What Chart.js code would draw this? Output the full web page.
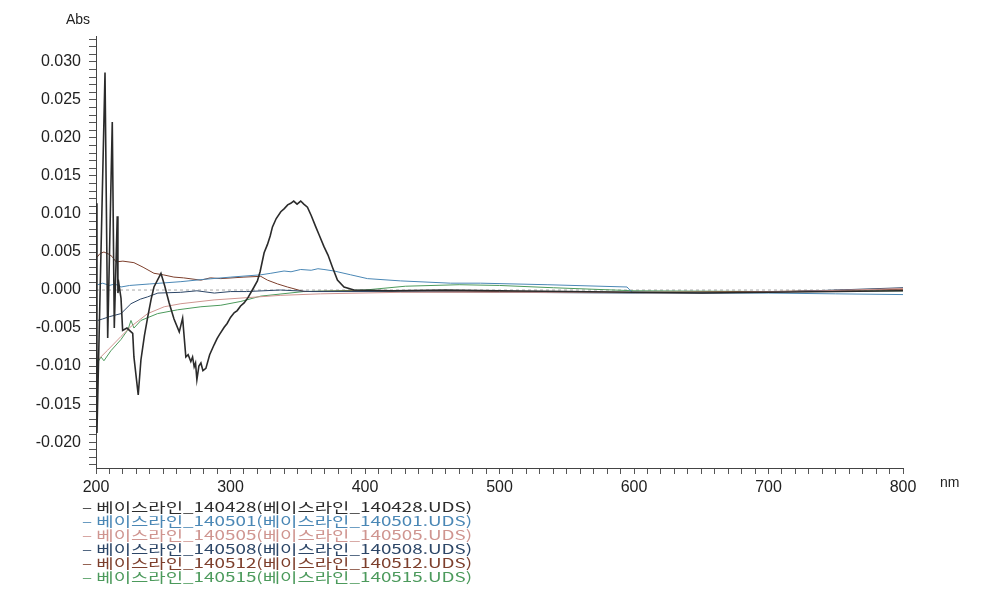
<!DOCTYPE html>
<html>
<head>
<meta charset="utf-8">
<script src="https://cdn.jsdelivr.net/npm/chart.js@4.4.0/dist/chart.umd.min.js"></script>
<style>
html, body { margin: 0; padding: 0; background: #fff; }
#wrap { position: relative; width: 985px; height: 590px; }
#legend { position: absolute; left: 82px; top: 500px; font-family: "Noto Sans CJK KR", sans-serif; font-size: 13px; line-height: 14px; white-space: nowrap; transform: scaleX(1.45); transform-origin: 0 0; }
.lab { position: absolute; font-family: "Liberation Sans", Arial, sans-serif; font-size: 14px; color: #222; }
</style>
</head>
<body>
<div id="wrap">
  <canvas id="myChart" width="985" height="590"></canvas>
  <span class="lab" style="left:66px;top:11px;">Abs</span>
  <span class="lab" style="left:940px;top:474px;">nm</span>
  <div id="legend"></div>
</div>
<script>
// series labels
const labels = [
    '베이스라인_140428(베이스라인_140428.UDS)',
    '베이스라인_140501(베이스라인_140501.UDS)',
    '베이스라인_140505(베이스라인_140505.UDS)',
    '베이스라인_140508(베이스라인_140508.UDS)',
    '베이스라인_140512(베이스라인_140512.UDS)',
    '베이스라인_140515(베이스라인_140515.UDS)'
];
const colors = ['#2b2b2b', '#4a87b5', '#cf9590', '#2c4667', '#7d3f2c', '#4c9a5c'];

// wavelength (nm) / absorbance
const wl428  = [200.4, 200.7, 206.7, 208.7, 212.1, 213.6, 215.8, 216.3, 217.1, 218.6, 219.8, 223, 227.3, 228.2, 231.4, 233.4, 236, 238.4, 241, 243.1, 248.3, 251, 254.4, 258, 261.9, 264.4, 266.8, 268.5, 270.5, 271.8, 273, 274, 275, 276.5, 278, 279.5, 281.7, 284.5, 287.8, 290, 292, 295.3, 297.5, 300, 302.7, 305, 307.5, 310.1, 313, 317.5, 320, 322, 325, 327.5, 329.5, 331.2, 334, 337.4, 340, 342.5, 344.8, 347, 349.5, 352.2, 354.5, 357.2, 360, 363.4, 366, 369.5, 372.5, 375.8, 379.5, 384.4, 391.8, 420, 460, 500, 550, 600, 650, 700, 750, 800];
const abs428 = [0.0114, -0.0188, 0.0286, -0.0063, 0.0221, -0.0050, 0.0097, -0.0004, 0.0007, -0.0011, -0.0053, -0.0050, -0.0057, -0.0088, -0.0138, -0.0092, -0.0060, -0.0036, -0.0012, 0.0004, 0.0022, 0.0006, -0.0017, -0.0038, -0.0055, -0.0037, -0.0088, -0.0085, -0.0094, -0.0088, -0.0101, -0.0096, -0.0118, -0.0100, -0.0096, -0.0106, -0.0103, -0.0085, -0.0072, -0.0064, -0.0058, -0.0049, -0.0044, -0.0036, -0.0030, -0.0027, -0.0021, -0.0017, -0.0010, 0.0004, 0.0012, 0.0024, 0.0049, 0.0060, 0.0071, 0.0083, 0.0094, 0.0103, 0.0107, 0.0112, 0.0114, 0.0117, 0.0113, 0.0117, 0.0113, 0.0109, 0.0098, 0.0083, 0.0072, 0.0057, 0.0046, 0.0030, 0.0013, 0.0004, 0.0000, -0.0001, 0.0000, -0.0001, -0.0002, -0.0003, -0.0004, -0.0003, -0.0002, -0.0001];

const wl501  = [201.3, 205, 210, 214, 218.6, 225, 240, 263.1, 280, 300.2, 322.5, 330, 339.8, 345, 352.2, 360, 365, 369.5, 377, 389.4, 401.8, 426.5, 463.6, 485.9, 535.4, 594.8, 598.5, 650, 700, 750, 800];
const abs501 = [0.0007, 0.0009, 0.0006, 0.0008, 0.0004, 0.0006, 0.0008, 0.0011, 0.0014, 0.0017, 0.0020, 0.0022, 0.0025, 0.0024, 0.0027, 0.0026, 0.0028, 0.0027, 0.0025, 0.0020, 0.0015, 0.0012, 0.0009, 0.0009, 0.0007, 0.0004, -0.0003, -0.0004, -0.0004, -0.0005, -0.0006];

const wl505  = [201.3, 208.7, 218.6, 226, 238.4, 250.7, 263.1, 287.8, 312.6, 337.4, 367, 426.5, 500, 575, 650, 720, 800];
const abs505 = [-0.0092, -0.0079, -0.0061, -0.0048, -0.0031, -0.0022, -0.0018, -0.0013, -0.0010, -0.0007, -0.0005, -0.0003, -0.0003, -0.0003, -0.0004, -0.0002, 0.0002];

const wl508  = [201.3, 205, 210, 218.6, 226, 233, 238.4, 246, 263, 275, 288, 300, 312, 337, 360, 400, 500, 600, 700, 800];
const abs508 = [-0.0040, -0.0038, -0.0035, -0.0031, -0.0018, -0.0012, -0.0009, -0.0004, -0.0003, -0.0001, -0.0004, -0.0002, -0.0002, 0.0000, -0.0002, -0.0002, -0.0003, -0.0004, -0.0003, 0.0003];

const wl512  = [200.7, 203, 205.9, 209.7, 212, 214.9, 220, 228.2, 235, 243.1, 250, 257.9, 265, 278, 285, 292.8, 310, 322.5, 327.5, 335, 342.3, 354.7, 400, 500, 600, 700, 800];
const abs512 = [0.0043, 0.0048, 0.0050, 0.0047, 0.0044, 0.0037, 0.0038, 0.0036, 0.0030, 0.0022, 0.0020, 0.0017, 0.0016, 0.0013, 0.0016, 0.0015, 0.0017, 0.0018, 0.0013, 0.0008, 0.0004, -0.0002, -0.0001, -0.0002, -0.0003, -0.0002, 0.0001];

const wl515  = [201.3, 203.7, 205.9, 211, 218.6, 223.8, 226, 228.2, 233.4, 245.8, 260.7, 278, 292.8, 307.7, 322.5, 354.5, 400, 430, 470, 500, 540, 600, 700, 800];
const abs515 = [-0.0095, -0.0088, -0.0093, -0.0080, -0.0065, -0.0052, -0.0040, -0.0050, -0.0040, -0.0031, -0.0026, -0.0022, -0.0020, -0.0015, -0.0008, -0.0002, 0.0000, 0.0005, 0.0007, 0.0006, 0.0003, -0.0001, -0.0002, -0.0001];

const xTicks = [200, 300, 400, 500, 600, 700, 800];

const seriesX = [wl428, wl501, wl505, wl508, wl512, wl515];
const seriesY = [abs428, abs501, abs505, abs508, abs512, abs515];

function toPoints(xs, ys) {
    return xs.map((x, i) => ({ x: x, y: ys[i] }));
}

const datasets = labels.map((lab, i) => ({
    label: lab,
    data: toPoints(seriesX[i], seriesY[i]),
    borderColor: colors[i],
    borderWidth: i === 0 ? 1.6 : 1,
    pointRadius: 0,
    tension: 0,
    fill: false
}));

// dashed zero line
const zeroLine = {
    id: 'zeroLine',
    beforeDatasetsDraw(chart) {
        const { ctx, chartArea, scales } = chart;
        const py = scales.y.getPixelForValue(0);
        ctx.save();
        ctx.strokeStyle = '#a8a8a8';
        ctx.lineWidth = 1;
        ctx.setLineDash([3, 3]);
        ctx.beginPath();
        ctx.moveTo(chartArea.left, py);
        ctx.lineTo(chartArea.right, py);
        ctx.stroke();
        ctx.restore();
    }
};

const ctx = document.getElementById('myChart').getContext('2d');
const chart = new Chart(ctx, {
    type: 'line',
    data: { datasets: datasets },
    options: {
        responsive: false,
        animation: false,
        layout: { padding: { left: 0, top: 36, right: 82, bottom: 92 } },
        plugins: { legend: { display: false }, tooltip: { enabled: false } },
        scales: {
            x: {
                type: 'linear',
                min: 200,
                max: 800,
                afterFit(scale) { scale.height = 30; },
                border: { display: true, color: '#444', width: 1 },
                grid: { drawOnChartArea: false, drawTicks: true, tickLength: 6, color: '#555' },
                ticks: {
                    stepSize: 10,
                    autoSkip: false,
                    maxRotation: 0,
                    padding: 4,
                    color: '#222',
                    font: { family: 'Liberation Sans', size: 16 },
                    callback: (v) => xTicks.includes(Math.round(v)) ? String(Math.round(v)) : ''
                }
            },
            y: {
                min: -0.0234,
                max: 0.0334,
                afterFit(scale) { scale.width = 96; },
                border: { display: true, color: '#444', width: 1 },
                grid: { drawOnChartArea: false, drawTicks: true, tickLength: 7, color: '#555' },
                ticks: {
                    stepSize: 0.001,
                    includeBounds: false,
                    autoSkip: false,
                    padding: 8,
                    color: '#222',
                    font: { family: 'Liberation Sans', size: 16 },
                    callback: (v) => {
                        const m = Math.round(v * 1000);
                        return m % 5 === 0 ? (m / 1000).toFixed(3) : '';
                    }
                }
            }
        }
    },
    plugins: [zeroLine]
});

// legend list below the plot
const legendEl = document.getElementById('legend');
legendEl.innerHTML = labels.map((lab, i) =>
    `<div style="color:${colors[i]}">– ${lab}</div>`).join('');
</script>
</body>
</html>
